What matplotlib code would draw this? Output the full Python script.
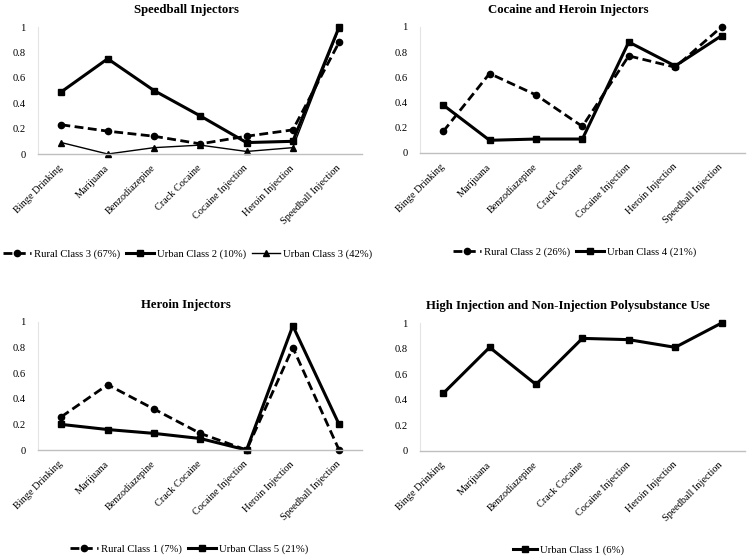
import matplotlib
matplotlib.use("Agg")
import matplotlib.pyplot as plt

plt.rcParams['font.family'] = ['Liberation Serif', 'DejaVu Serif']

categories = ["Binge Drinking", "Marijuana", "Benzodiazepine", "Crack Cocaine",
              "Cocaine Injection", "Heroin Injection", "Speedball Injection"]
y_ticks = [0, 0.2, 0.4, 0.6, 0.8, 1]
y_tick_labels = ["0", "0.2", "0.4", "0.6", "0.8", "1"]

# Panel 1: Speedball Injectors
rural3 = [0.23, 0.18, 0.14, 0.08, 0.14, 0.19, 0.88]
urban2 = [0.49, 0.75, 0.50, 0.30, 0.09, 0.10, 1.00]
urban3 = [0.09, 0.00, 0.05, 0.07, 0.02, 0.05, 0.99]
# Panel 2: Cocaine and Heroin Injectors
rural2 = [0.17, 0.63, 0.46, 0.21, 0.77, 0.68, 1.00]
urban4 = [0.38, 0.10, 0.11, 0.11, 0.88, 0.69, 0.93]
# Panel 3: Heroin Injectors
rural1 = [0.26, 0.51, 0.32, 0.13, 0.00, 0.80, 0.00]
urban5 = [0.20, 0.16, 0.13, 0.09, 0.00, 0.97, 0.20]
# Panel 4: High Injection and Non-Injection Polysubstance Use
urban1 = [0.45, 0.81, 0.52, 0.88, 0.87, 0.81, 1.00]

styles = {
    "rural": dict(color="black", linestyle=(0, (3.2, 1.6)), linewidth=2.0, marker="o", markersize=4.5),
    "urban": dict(color="black", linestyle="-", linewidth=2.2, marker="s", markersize=4.5),
    "thin": dict(color="black", linestyle="-", linewidth=1.0, marker="^", markersize=4),
}

panels = [
    ("Speedball Injectors", [0.051, 0.724, 0.432, 0.2276],
     [(rural3, "rural", "Rural Class 3 (67%)"), (urban2, "urban", "Urban Class 2 (10%)"),
      (urban3, "thin", "Urban Class 3 (42%)")], (0.461, -0.785), 2.6),
    ("Cocaine and Heroin Injectors", [0.56, 0.726, 0.433, 0.2258],
     [(rural2, "rural", "Rural Class 2 (26%)"), (urban4, "urban", "Urban Class 4 (21%)")], (0.477, -0.79), 2.6),
    ("Heroin Injectors", [0.051, 0.1935, 0.432, 0.2295],
     [(rural1, "rural", "Rural Class 1 (7%)"), (urban5, "urban", "Urban Class 5 (21%)")], (0.466, -0.77), 2.6),
    ("High Injection and Non-Injection Polysubstance Use", [0.56, 0.1918, 0.433, 0.2293],
     [(urban1, "urban", "Urban Class 1 (6%)")], (0.458, -0.775), 2.2),
]

fig = plt.figure(figsize=(7.5, 5.58), dpi=100)
x = list(range(len(categories)))
for title, pos, series, legpos, hl in panels:
    ax = fig.add_axes(pos)
    for vals, st, lab in series:
        ax.plot(x, vals, label=lab, clip_on=False, **styles[st])
    ax.set_xlim(-0.5, len(categories) - 0.5)
    ax.set_ylim(0, 1)
    ax.set_yticks(y_ticks)
    ax.set_yticklabels(y_tick_labels, fontsize=7.6)
    ax.set_xticks(x)
    ax.set_xticklabels(categories, rotation=45, ha="right", va="center",
                       rotation_mode="anchor", fontsize=7.4)
    ax.tick_params(axis="y", length=0, pad=9)
    ax.tick_params(axis="x", length=0, pad=9)
    for s in ("top", "right"):
        ax.spines[s].set_visible(False)
    ax.spines["left"].set_color("#e4e4e4")
    ax.spines["left"].set_linewidth(0.8)
    ax.spines["bottom"].set_color("#bfbfbf")
    ax.spines["bottom"].set_linewidth(1.0)
    ax.set_title(title, fontsize=9.2, fontweight="bold", pad=10, x=0.457)
    ax.legend(loc="center", bbox_to_anchor=legpos, ncol=len(series), frameon=False,
              fontsize=7.7, handlelength=hl, columnspacing=0.55, handletextpad=0.3)

fig.savefig("out.png", dpi=100, facecolor="white")
